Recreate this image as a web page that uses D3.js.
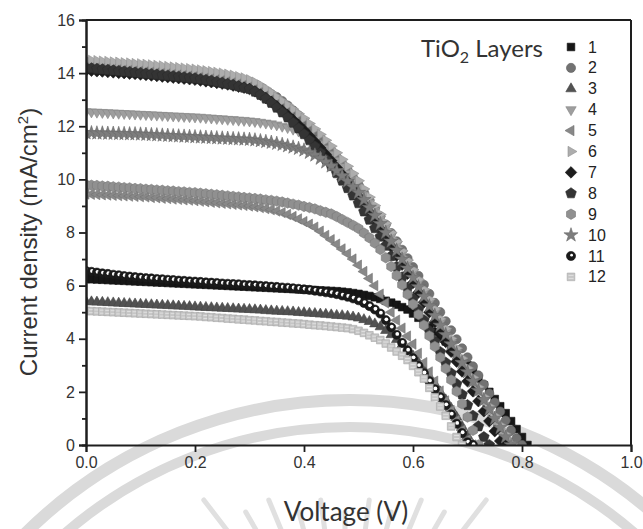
<!DOCTYPE html>
<html>
<head>
<meta charset="utf-8">
<script src="https://cdn.jsdelivr.net/npm/d3@7"></script>
<style>
  html, body { margin: 0; padding: 0; background: #fff; }
  svg { display: block; }
</style>
</head>
<body>
<svg id="chart" width="643" height="529"></svg>
<script>
// ---- data -------------------------------------------------------------
// Voltage grid (V); each current-density series is sampled on it from 0 V until it reaches 0.
const voltage = [0.00,0.01,0.02,0.03,0.04,0.05,0.06,0.07,0.08,0.09,
  0.10,0.11,0.12,0.13,0.14,0.15,0.16,0.17,0.18,0.19,
  0.20,0.21,0.22,0.23,0.24,0.25,0.26,0.27,0.28,0.29,
  0.30,0.31,0.32,0.33,0.34,0.35,0.36,0.37,0.38,0.39,
  0.40,0.41,0.42,0.43,0.44,0.45,0.46,0.47,0.48,0.49,
  0.50,0.51,0.52,0.53,0.54,0.55,0.56,0.57,0.58,0.59,
  0.60,0.61,0.62,0.63,0.64,0.65,0.66,0.67,0.68,0.69,
  0.70,0.71,0.72,0.73,0.74,0.75,0.76,0.77,0.78,0.79,
  0.80,0.81,0.82];

const layerNames = ["1","2","3","4","5","6","7","8","9","10","11","12"];

// Current density (mA/cm²) for 1 … 12 TiO2 layers
const jLayer1 = [6.25,6.24,6.23,6.22,6.21,6.20,6.19,6.18,6.17,6.16,6.15,
  6.14,6.13,6.12,6.11,6.10,6.09,6.08,6.07,6.06,6.05,
  6.04,6.03,6.02,6.01,6.00,5.99,5.98,5.97,5.96,5.95,
  5.94,5.93,5.92,5.91,5.90,5.89,5.88,5.87,5.86,5.85,
  5.84,5.83,5.82,5.81,5.80,5.79,5.77,5.75,
  5.72,5.69,5.65,5.61,5.56,5.50,
  5.43,5.36,5.28,5.19,5.10,
  4.95,4.79,4.60,
  4.43,4.26,4.08,3.90,
  3.68,3.46,3.23,3.00,
  2.75,2.50,2.25,2.00,
  1.73,1.46,1.20,
  0.90,0.60,0.30,0.00];

const jLayer2 = [14.30,14.29,14.27,14.26,14.24,14.23,14.21,14.20,14.18,14.17,14.15,
  14.13,14.11,14.10,14.08,14.06,14.04,14.02,14.00,13.98,13.95,
  13.92,13.89,13.86,13.83,13.80,13.76,13.71,13.66,13.61,13.55,
  13.48,13.40,13.31,13.21,13.10,12.95,12.78,12.60,12.41,12.20,
  11.99,11.78,11.56,11.33,11.10,10.85,10.60,10.34,10.07,9.80,
  9.51,9.21,8.91,8.61,8.30,7.98,7.67,7.35,7.03,6.70,
  6.37,6.03,5.69,5.35,5.00,4.66,4.32,3.98,3.64,3.30,
  2.96,2.62,2.28,1.94,1.60,1.26,0.92,0.55,0.25,0.00];

const jLayer3 = [5.40,5.39,5.38,5.37,5.36,5.35,5.34,5.33,5.32,5.31,5.30,
  5.29,5.28,5.27,5.26,5.25,5.24,5.23,5.22,5.21,5.20,
  5.19,5.18,5.17,5.16,5.15,5.14,5.13,5.12,5.11,5.10,
  5.09,5.08,5.06,5.05,5.04,5.03,5.02,5.01,4.99,4.98,
  4.96,4.95,4.93,4.92,4.90,4.88,4.87,4.85,4.82,4.78,
  4.72,4.65,4.56,4.45,4.31,4.15,3.97,3.78,3.57,3.35,
  3.11,2.85,2.58,2.30,2.00,1.70,1.38,1.05,0.70,0.35,
  0.00];

const jLayer4 = [12.55,12.54,12.53,12.52,12.51,12.50,12.49,12.48,12.47,12.46,12.45,
  12.44,12.43,12.42,12.41,12.40,12.39,12.38,12.37,12.36,12.35,
  12.34,12.32,12.31,12.29,12.28,12.26,12.25,12.23,12.22,12.20,
  12.18,12.15,12.12,12.09,12.05,12.00,11.95,11.89,11.82,11.75,
  11.63,11.49,11.34,11.16,10.95,10.72,10.48,10.23,9.97,9.70,
  9.41,9.12,8.82,8.51,8.20,7.87,7.53,7.19,6.85,6.50,
  6.13,5.75,5.37,4.99,4.60,4.22,3.84,3.46,3.08,2.70,
  2.34,1.98,1.62,1.26,0.90,0.52,0.18,0.00];

const jLayer5 = [9.45,9.44,9.43,9.42,9.41,9.40,9.39,9.38,9.37,9.36,9.35,
  9.34,9.32,9.31,9.29,9.28,9.26,9.25,9.23,9.22,9.20,
  9.18,9.16,9.14,9.12,9.10,9.08,9.06,9.04,9.02,9.00,
  8.97,8.94,8.90,8.86,8.81,8.75,8.68,8.60,8.51,8.41,
  8.31,8.20,8.05,7.89,7.73,7.56,7.38,7.20,7.00,6.77,
  6.53,6.27,6.00,5.68,5.35,5.00,4.70,4.40,4.10,3.80,
  3.45,3.10,2.75,2.40,2.03,1.66,1.30,0.93,0.56,0.20,
  0.00];

const jLayer6 = [14.50,14.48,14.47,14.45,14.44,14.42,14.41,14.39,14.38,14.36,14.35,
  14.33,14.31,14.29,14.27,14.25,14.23,14.21,14.19,14.17,14.15,
  14.12,14.09,14.06,14.03,14.00,13.96,13.92,13.87,13.82,13.75,
  13.66,13.55,13.42,13.27,13.10,12.95,12.80,12.64,12.47,12.30,
  12.10,11.90,11.69,11.47,11.25,11.00,10.75,10.49,10.22,9.95,
  9.64,9.33,9.01,8.68,8.35,8.00,7.66,7.31,6.96,6.60,
  6.23,5.86,5.49,5.12,4.75,4.38,4.01,3.64,3.27,2.90,
  2.54,2.18,1.82,1.46,1.10,0.75,0.40,0.00];

const jLayer7 = [14.10,14.09,14.07,14.06,14.04,14.03,14.01,14.00,13.98,13.97,13.95,
  13.93,13.91,13.89,13.87,13.85,13.83,13.81,13.79,13.77,13.75,
  13.72,13.69,13.66,13.63,13.60,13.57,13.53,13.49,13.45,13.40,
  13.31,13.19,13.06,12.92,12.75,12.59,12.42,12.24,12.05,11.85,
  11.63,11.41,11.18,10.94,10.70,10.44,10.18,9.91,9.63,9.35,
  9.05,8.75,8.44,8.12,7.80,7.47,7.13,6.79,6.45,6.10,
  5.74,5.37,5.00,4.62,4.25,3.88,3.51,3.14,2.77,2.40,
  2.02,1.65,1.27,0.90,0.52,0.15,0.00];

const jLayer8 = [14.20,14.18,14.16,14.14,14.12,14.10,14.08,14.06,14.04,14.02,14.00,
  13.98,13.96,13.94,13.92,13.90,13.88,13.86,13.84,13.82,13.80,
  13.77,13.74,13.71,13.67,13.63,13.59,13.55,13.50,13.45,13.40,
  13.30,13.18,13.04,12.88,12.70,12.52,12.33,12.13,11.92,11.70,
  11.47,11.24,11.00,10.75,10.50,10.23,9.95,9.67,9.39,9.10,
  8.79,8.48,8.16,7.84,7.50,7.11,6.71,6.31,5.91,5.50,
  5.10,4.70,4.30,3.90,3.50,3.10,2.70,2.30,1.90,1.50,
  1.10,0.70,0.30,0.00];

const jLayer9 = [9.80,9.78,9.77,9.75,9.74,9.72,9.71,9.69,9.68,9.66,9.65,
  9.63,9.62,9.60,9.59,9.57,9.56,9.54,9.53,9.51,9.50,
  9.48,9.46,9.44,9.42,9.40,9.38,9.36,9.34,9.32,9.30,
  9.28,9.26,9.23,9.21,9.18,9.15,9.11,9.07,9.03,8.98,
  8.94,8.89,8.82,8.76,8.70,8.60,8.49,8.38,8.27,8.15,
  7.98,7.80,7.60,7.36,7.05,6.72,6.38,6.03,5.67,5.30,
  4.91,4.51,4.11,3.71,3.30,2.88,2.45,2.02,1.55,1.05,
  0.55,0.00];

const jLayer10 = [11.75,11.75,11.74,11.74,11.73,11.73,11.72,11.72,11.71,11.71,11.70,
  11.69,11.68,11.67,11.66,11.65,11.64,11.63,11.62,11.61,11.60,
  11.59,11.58,11.57,11.56,11.55,11.54,11.53,11.52,11.51,11.50,
  11.48,11.45,11.42,11.39,11.35,11.31,11.26,11.21,11.16,11.10,
  11.01,10.91,10.79,10.65,10.50,10.32,10.13,9.93,9.72,9.50,
  9.23,8.94,8.64,8.33,8.00,7.67,7.33,6.99,6.65,6.30,
  5.95,5.59,5.23,4.87,4.50,4.15,3.80,3.45,3.10,2.75,
  2.40,2.05,1.70,1.35,1.00,0.65,0.30,0.00];

const jLayer11 = [6.55,6.52,6.49,6.46,6.44,6.41,6.39,6.36,6.34,6.32,6.30,
  6.28,6.27,6.25,6.24,6.22,6.21,6.19,6.18,6.16,6.15,
  6.14,6.12,6.11,6.10,6.08,6.07,6.06,6.05,6.03,6.02,
  6.01,5.99,5.98,5.96,5.95,5.93,5.92,5.90,5.88,5.86,
  5.84,5.81,5.78,5.75,5.72,5.68,5.63,5.58,5.52,5.45,
  5.35,5.23,5.10,4.95,4.70,4.43,4.15,3.85,3.56,3.27,
  2.98,2.70,2.40,2.10,1.80,1.50,1.15,0.80,0.45,0.10,
  0.00];

const jLayer12 = [5.05,5.04,5.03,5.02,5.01,5.00,4.99,4.98,4.97,4.96,4.95,
  4.94,4.93,4.92,4.91,4.90,4.89,4.88,4.87,4.86,4.85,
  4.84,4.82,4.81,4.79,4.78,4.76,4.75,4.73,4.72,4.70,
  4.69,4.67,4.66,4.64,4.63,4.61,4.60,4.58,4.57,4.55,
  4.53,4.51,4.50,4.48,4.46,4.44,4.42,4.40,4.36,4.30,
  4.22,4.13,4.04,3.95,3.82,3.67,3.52,3.36,3.20,2.98,
  2.74,2.50,2.15,1.80,1.45,1.10,0.70,0.30,0.00];

const xTickValues = [0.0, 0.2, 0.4, 0.6, 0.8, 1.0];
const yTickValues = [0, 2, 4, 6, 8, 10, 12, 14, 16];
const yMinorTickValues = [1, 3, 5, 7, 9, 11, 13, 15];

// ---- styling per series ----------------------------------------------
const seriesData = [jLayer1, jLayer2, jLayer3, jLayer4, jLayer5, jLayer6,
                    jLayer7, jLayer8, jLayer9, jLayer10, jLayer11, jLayer12];
const markerShapes = ["square", "circle", "up", "down", "left", "right",
                      "diamond", "pentagon", "hexagon", "star", "ball", "lightsquare"];
const markerFills = ["#161616", "#727272", "#525252", "#9e9e9e", "#888888", "#adadad",
                     "#1c1c1c", "#343434", "#909090", "#7d7d7d", "#1a1a1a", "#c6c6c6"];

// ---- layout ------------------------------------------------------------
const plotLeft = 86, plotRight = 631, plotTop = 20, plotBottom = 445;
const svg = d3.select("#chart");
svg.append("rect").attr("width", 643).attr("height", 529).attr("fill", "#fff");

const x = d3.scaleLinear().domain([0, 1]).range([plotLeft, plotRight]);
const y = d3.scaleLinear().domain([0, 16]).range([plotBottom, plotTop]);

// faint emblem in the page background: two arcs and a fan of rays
const emblem = svg.append("g").attr("fill", "none");
const emblemCx = 350, emblemCy = 862;
emblem.append("circle").attr("cx", emblemCx).attr("cy", emblemCy).attr("r", 462)
  .attr("stroke", "#dadada").attr("stroke-width", 12);
emblem.append("circle").attr("cx", emblemCx).attr("cy", emblemCy).attr("r", 435)
  .attr("stroke", "#dadada").attr("stroke-width", 10);
const rayCx = 345, rayCy = 684;
d3.range(-127.5, -50, 7.5).forEach((deg, i) => {
  const a = deg * Math.PI / 180;
  const topY = (i % 2 === 0) ? 500 : 512;
  const r0 = (rayCy - topY) / -Math.sin(a);   // outer end of the ray
  const r1 = r0 - 90;                          // inner end, toward the hub
  emblem.append("line")
    .attr("x1", rayCx + r0 * Math.cos(a)).attr("y1", rayCy + r0 * Math.sin(a))
    .attr("x2", rayCx + r1 * Math.cos(a)).attr("y2", rayCy + r1 * Math.sin(a))
    .attr("stroke", "#e0e0e0").attr("stroke-width", 5).attr("stroke-linecap", "round");
});

// ---- marker geometry ---------------------------------------------------
function polygonPath(n, r, rotDeg) {
  const pts = d3.range(n).map(i => {
    const a = (rotDeg + i * 360 / n) * Math.PI / 180;
    return [r * Math.cos(a), r * Math.sin(a)];
  });
  return "M" + pts.map(p => p[0].toFixed(2) + "," + p[1].toFixed(2)).join("L") + "Z";
}
const shapePaths = {
  square: polygonPath(4, 5.4, 45),
  lightsquare: polygonPath(4, 5.4, 45),
  circle: d3.symbol(d3.symbolCircle, 66)(),
  up: polygonPath(3, 6.0, -90),
  down: polygonPath(3, 6.0, 90),
  left: polygonPath(3, 6.0, 180),
  right: polygonPath(3, 6.0, 0),
  diamond: polygonPath(4, 5.8, -90),
  pentagon: polygonPath(5, 5.6, -90),
  hexagon: polygonPath(6, 5.2, -90),
  star: d3.symbol(d3.symbolStar, 62)(),
  ball: d3.symbol(d3.symbolCircle, 66)()
};

function drawMarker(g, shape, fill, highlight) {
  const edge = d3.color(fill).darker(0.5).formatHex();
  g.append("path").attr("d", shapePaths[shape])
    .attr("fill", fill).attr("stroke", edge).attr("stroke-width", 0.6);
  if (shape === "ball") {
    g.append("circle").attr("cx", 0.6).attr("cy", -0.8).attr("r", highlight).attr("fill", "#fff");
  }
  if (shape === "lightsquare") {
    g.append("path").attr("d", "M-2.5,-1.5L2.5,-1.5M-2.5,1.5L2.5,1.5")
      .attr("stroke", "#e2e2e2").attr("stroke-width", 0.9);
  }
}

// ---- series -------------------------------------------------------------
svg.append("defs").append("clipPath").attr("id", "plot-clip")
  .append("rect").attr("x", plotLeft).attr("y", plotTop)
  .attr("width", plotRight - plotLeft).attr("height", plotBottom - plotTop);

const plotArea = svg.append("g").attr("clip-path", "url(#plot-clip)");
seriesData.forEach((values, s) => {
  const g = plotArea.append("g").attr("class", "layer-" + layerNames[s]);
  values.forEach((j, i) => {
    const m = g.append("g").attr("transform", `translate(${x(voltage[i])},${y(j)})`);
    drawMarker(m, markerShapes[s], markerFills[s], 1.9);
  });
});

// ---- frame & axes --------------------------------------------------------
const axisColor = "#1e1e1e";
svg.append("line").attr("x1", plotLeft).attr("x2", plotRight).attr("y1", plotTop).attr("y2", plotTop)
  .attr("stroke", axisColor).attr("stroke-width", 2);
svg.append("line").attr("x1", plotRight).attr("x2", plotRight).attr("y1", plotTop).attr("y2", plotBottom)
  .attr("stroke", axisColor).attr("stroke-width", 2);

const tickFont = "'Liberation Sans', Arial, sans-serif";

const yAxis = svg.append("g").attr("transform", `translate(${plotLeft},0)`)
  .call(d3.axisLeft(y).tickValues(yTickValues).tickSize(7).tickPadding(4).tickFormat(d3.format("d")));
const yMinor = svg.append("g").attr("transform", `translate(${plotLeft},0)`)
  .call(d3.axisLeft(y).tickValues(yMinorTickValues).tickSize(4).tickFormat(""));
const xAxis = svg.append("g").attr("transform", `translate(0,${plotBottom})`)
  .call(d3.axisBottom(x).tickValues(xTickValues).tickSize(7).tickPadding(5).tickFormat(d3.format(".1f")));

[yAxis, yMinor, xAxis].forEach(a => {
  a.select(".domain").attr("stroke", axisColor).attr("stroke-width", 2);
  a.selectAll(".tick line").attr("stroke", axisColor).attr("stroke-width", 1.8);
  a.selectAll(".tick text").attr("fill", "#333").attr("font-family", tickFont).attr("font-size", 16);
});

// axis titles
svg.append("text")
  .attr("transform", "translate(37,242) rotate(-90)")
  .attr("text-anchor", "middle")
  .attr("font-family", tickFont).attr("font-size", 24).attr("fill", "#333")
  .call(t => {
    t.append("tspan").text("Current density (mA/cm");
    t.append("tspan").attr("dy", -9).attr("font-size", 15).text("2");
    t.append("tspan").attr("dy", 9).text(")");
  });

svg.append("text")
  .attr("x", 346).attr("y", 521)
  .attr("text-anchor", "middle")
  .attr("font-family", "Lato, 'Open Sans', sans-serif").attr("font-size", 26).attr("fill", "#333")
  .text("Voltage (V)");

// ---- legend --------------------------------------------------------------
const legend = svg.append("g");
legend.append("text")
  .attr("x", 421).attr("y", 57)
  .attr("font-family", "Lato, 'Open Sans', sans-serif").attr("font-size", 24).attr("fill", "#333")
  .call(t => {
    t.append("tspan").text("TiO");
    t.append("tspan").attr("dy", 6).attr("font-size", 16).text("2");
    t.append("tspan").attr("dy", -6).text(" Layers");
  });

layerNames.forEach((name, s) => {
  const rowY = 47 + s * 20.9;
  const m = legend.append("g").attr("transform", `translate(571,${rowY})`);
  drawMarker(m, markerShapes[s], markerFills[s], 1.4);
  legend.append("text")
    .attr("x", 588).attr("y", rowY + 5.5)
    .attr("font-family", tickFont).attr("font-size", 16).attr("fill", "#222")
    .text(name);
});
</script>
</body>
</html>
